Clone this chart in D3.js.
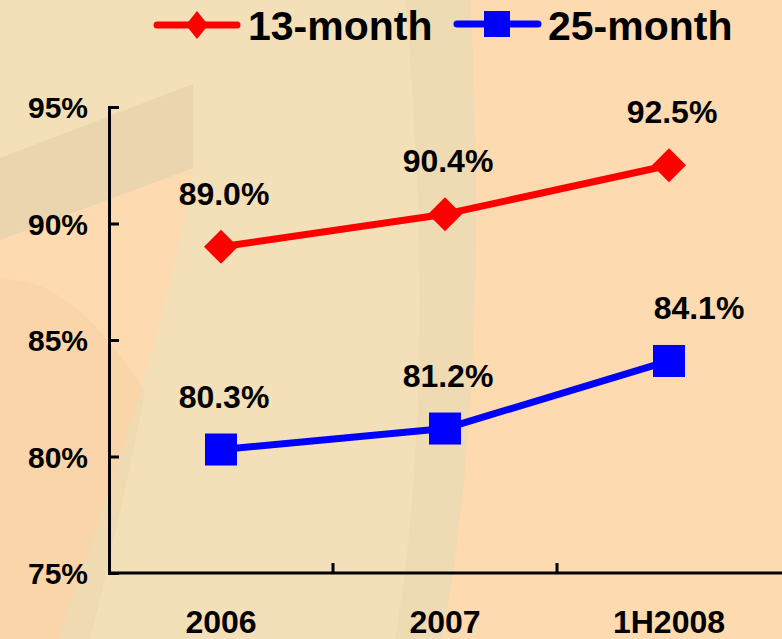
<!DOCTYPE html>
<html>
<head>
<meta charset="utf-8">
<script src="https://cdn.jsdelivr.net/npm/d3@7"></script>
<style>
  html, body { margin: 0; padding: 0; background: #FDDAAF; }
  svg { display: block; }
  text { font-family: "Liberation Sans", Arial, sans-serif; font-weight: bold; fill: #000; }
</style>
</head>
<body>
<svg id="chart" width="782" height="639"></svg>
<script>
// Persistency ratios by period
const periods = ["2006", "2007", "1H2008"];
const month13 = [89.0, 90.4, 92.5];
const month25 = [80.3, 81.2, 84.1];
const yTicks = [75, 80, 85, 90, 95];
const seriesNames = ["13-month", "25-month"];

const W = 782, H = 639;
const svg = d3.select("#chart");

// Decorative backdrop
const bg = svg.append("g");
bg.append("rect").attr("width", W).attr("height", H).attr("fill", "#FDDAAF");
bg.append("path")
  .attr("d", "M0,0 L470,0 C482,200 478,450 442,639 L58,639 C100,520 140,400 160,320 C175,260 188,210 193,168 L0,240 Z")
  .attr("fill", "#F3E0B8");
bg.append("path")
  .attr("d", "M0,158 L193,84 L193,168 L0,240 Z")
  .attr("fill", "#EAD5AF");
bg.append("path")
  .attr("d", "M405,0 L470,0 C482,200 478,450 442,639 L395,639 C428,450 424,200 405,0 Z")
  .attr("fill", "rgba(190,160,110,0.07)");
bg.append("path")
  .attr("d", "M0,280 C50,275 100,320 145,392 C130,470 110,560 90,639 L0,639 Z")
  .attr("fill", "rgba(180,135,90,0.06)");

// Scales
const x = d3.scaleBand().domain(periods).range([109, 781]).paddingInner(0).paddingOuter(0);
const cx = p => x(p) + x.bandwidth() / 2;
const y = d3.scaleLinear().domain([75, 95]).range([573, 107]);

// Y axis
const yAxis = svg.append("g").attr("transform", "translate(109,0)")
  .call(d3.axisLeft(y).tickValues(yTicks).tickFormat(d => d + "%").tickSize(-10).tickPadding(21));
yAxis.select(".domain").attr("stroke", "#000").attr("stroke-width", 3);
yAxis.selectAll(".tick line").attr("stroke", "#000").attr("stroke-width", 3);
yAxis.selectAll(".tick text").attr("font-size", 30).attr("font-family", "Liberation Sans, Arial, sans-serif")
  .attr("font-weight", "bold").attr("fill", "#000").attr("dy", "0.36em");

// X axis with ticks on band boundaries
const xAxis = svg.append("g").attr("transform", "translate(0,573)");
xAxis.append("line").attr("x1", 108).attr("x2", W).attr("y1", 0).attr("y2", 0)
  .attr("stroke", "#000").attr("stroke-width", 3);
xAxis.selectAll("line.tk").data(periods.slice(1)).enter().append("line")
  .attr("class", "tk")
  .attr("x1", d => x(d)).attr("x2", d => x(d)).attr("y1", 0).attr("y2", -10)
  .attr("stroke", "#000").attr("stroke-width", 3);
xAxis.selectAll("text").data(periods).enter().append("text")
  .attr("x", d => cx(d)).attr("y", 60).attr("text-anchor", "middle")
  .attr("font-size", 32).text(d => d);

// Series
const line = d3.line().x(d => cx(d.p)).y(d => y(d.v));
function seriesData(vals) { return periods.map((p, i) => ({ p, v: vals[i] })); }

const red = seriesData(month13), blue = seriesData(month25);

svg.append("path").datum(red).attr("d", line).attr("fill", "none")
  .attr("stroke", "#FF0000").attr("stroke-width", 7).attr("stroke-linejoin", "round");
svg.append("path").datum(blue).attr("d", line).attr("fill", "none")
  .attr("stroke", "#0000FF").attr("stroke-width", 7).attr("stroke-linejoin", "round");

const diamond = (r) => `M0,${-r} L${r},0 L0,${r} L${-r},0 Z`;
svg.selectAll("path.dm").data(red).enter().append("path")
  .attr("class", "dm")
  .attr("transform", d => `translate(${cx(d.p)},${y(d.v)})`)
  .attr("d", diamond(17)).attr("fill", "#FF0000");
svg.selectAll("rect.sq").data(blue).enter().append("rect")
  .attr("class", "sq")
  .attr("x", d => cx(d.p) - 16).attr("y", d => y(d.v) - 16)
  .attr("width", 32).attr("height", 32).attr("fill", "#0000FF");

// Value labels (horizontal nudge per point)
function labels(data, nudge) {
  svg.append("g").selectAll("text").data(data).enter().append("text")
    .attr("x", (d, i) => cx(d.p) + nudge[i]).attr("y", d => y(d.v) - 42)
    .attr("text-anchor", "middle").attr("font-size", 32)
    .text(d => d.v.toFixed(1) + "%");
}
labels(red, [3, 3, 3]);
labels(blue, [3, 3, 30]);

// Legend
const lr = svg.append("g").attr("transform", "translate(0,25)");
lr.append("line").attr("x1", 157).attr("x2", 237).attr("stroke", "#FF0000")
  .attr("stroke-width", 7).attr("stroke-linecap", "round");
lr.append("path").attr("transform", "translate(197,0) scale(0.8,1)").attr("d", diamond(14)).attr("fill", "#FF0000");
lr.append("text").attr("x", 248).attr("y", 15).attr("font-size", 41).text(seriesNames[0]);

const lb = svg.append("g").attr("transform", "translate(0,24)");
lb.append("line").attr("x1", 457).attr("x2", 538).attr("stroke", "#0000FF")
  .attr("stroke-width", 7).attr("stroke-linecap", "round");
lb.append("rect").attr("x", 484).attr("y", -13).attr("width", 26).attr("height", 26).attr("fill", "#0000FF");
lb.append("text").attr("x", 548).attr("y", 16).attr("font-size", 41).text(seriesNames[1]);
</script>
</body>
</html>
